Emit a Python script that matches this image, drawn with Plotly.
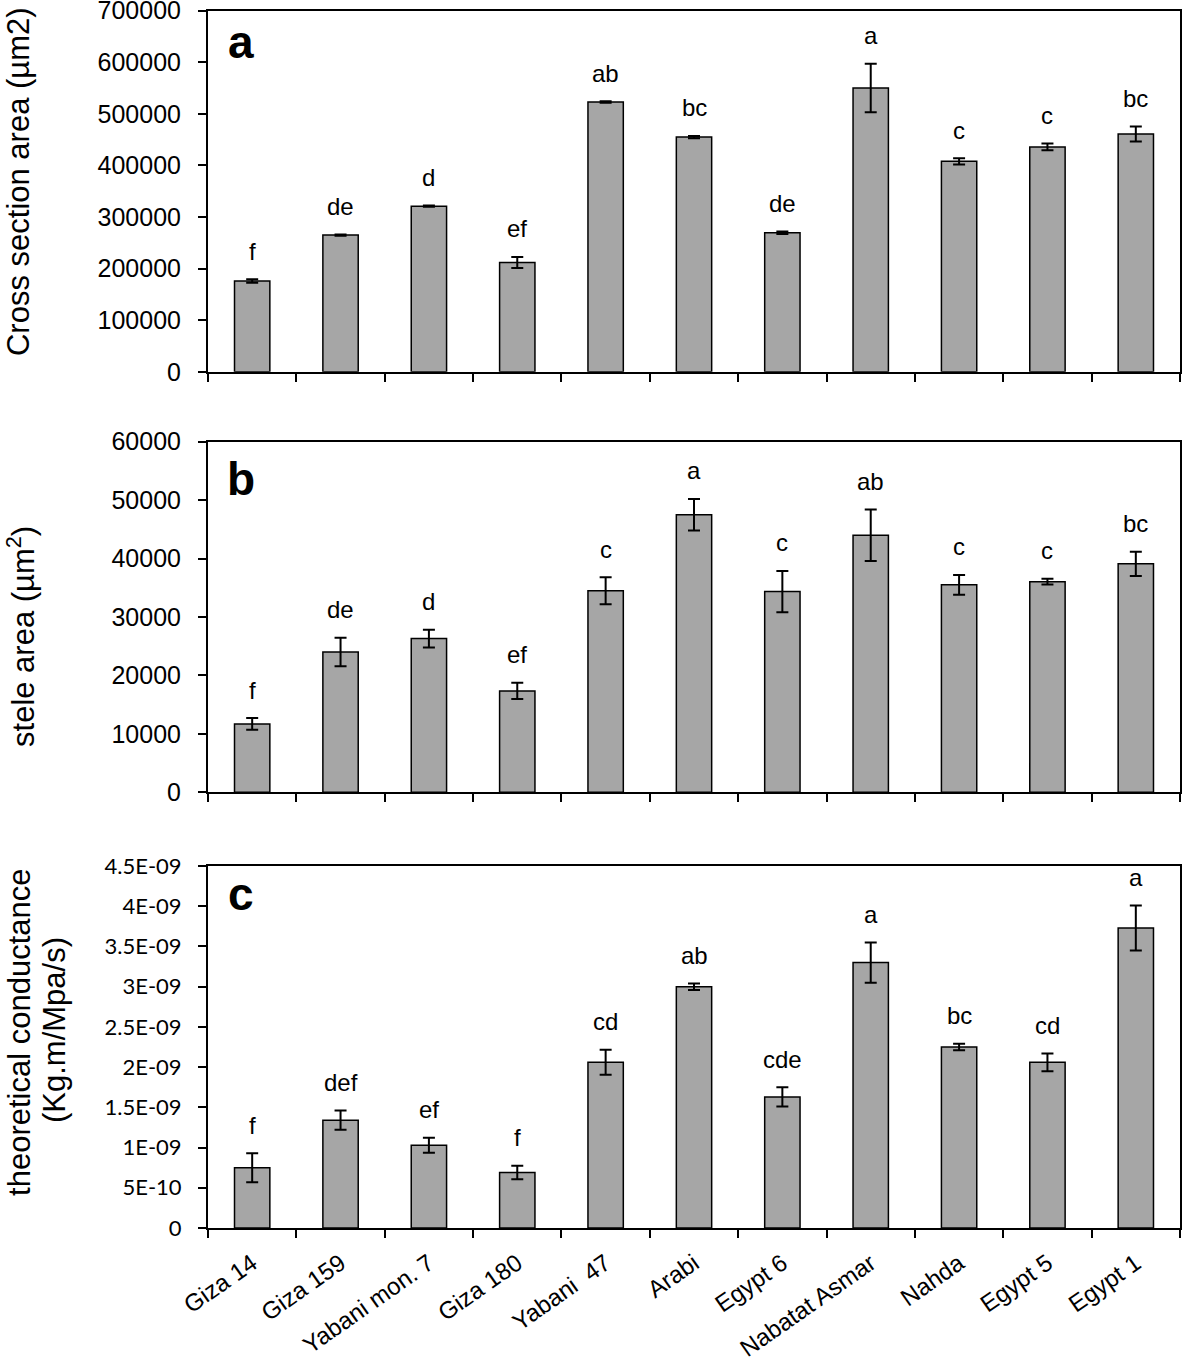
import plotly.graph_objects as go

categories = ["Giza 14", "Giza 159", "Yabani mon. 7", "Giza 180", "Yabani  47", "Arabi",
              "Egypt 6", "Nabatat Asmar", "Nahda", "Egypt 5", "Egypt 1"]

cross_area = [176000, 265000, 321000, 212000, 523000, 455000, 269500, 550000, 408000, 436000, 461000]
cross_err = [3300, 1200, 1200, 10700, 1500, 2200, 2500, 47000, 6100, 6500, 14500]
cross_letters = ["f", "de", "d", "ef", "ab", "bc", "de", "a", "c", "c", "bc"]

stele_area = [11700, 24000, 26300, 17350, 34500, 47500, 34350, 44000, 35500, 36050, 39100]
stele_err = [1000, 2430, 1500, 1400, 2300, 2700, 3540, 4400, 1690, 510, 2080]
stele_letters = ["f", "de", "d", "ef", "c", "a", "c", "ab", "c", "c", "bc"]

conduct = [0.75e-9, 1.34e-9, 1.03e-9, 0.69e-9, 2.06e-9, 3.00e-9, 1.63e-9, 3.30e-9, 2.25e-9, 2.06e-9, 3.73e-9]
conduct_err = [0.18e-9, 0.12e-9, 0.093e-9, 0.083e-9, 0.155e-9, 0.04e-9, 0.12e-9, 0.25e-9, 0.04e-9, 0.11e-9, 0.28e-9]
conduct_letters = ["f", "def", "ef", "f", "cd", "ab", "cde", "a", "bc", "cd", "a"]

cross_ticks = [0, 100000, 200000, 300000, 400000, 500000, 600000, 700000]
cross_ticktext = ["0", "100000", "200000", "300000", "400000", "500000", "600000", "700000"]
stele_ticks = [0, 10000, 20000, 30000, 40000, 50000, 60000]
stele_ticktext = ["0", "10000", "20000", "30000", "40000", "50000", "60000"]
cond_ticks = [0, 0.5e-9, 1e-9, 1.5e-9, 2e-9, 2.5e-9, 3e-9, 3.5e-9, 4e-9, 4.5e-9]
cond_ticktext = ["0", "5E-10", "1E-09", "1.5E-09", "2E-09", "2.5E-09", "3E-09", "3.5E-09", "4E-09", "4.5E-09"]

ARIAL = "Liberation Sans, Arial"

panels = [
    dict(vals=cross_area, err=cross_err, letters=cross_letters, ticks=cross_ticks,
         ticktext=cross_ticktext, rng=[0, 700000], domain=[0.7030, 0.9994], tag="a",
         tickfont=dict(family=ARIAL, size=25, color="black")),
    dict(vals=stele_area, err=stele_err, letters=stele_letters, ticks=stele_ticks,
         ticktext=stele_ticktext, rng=[0, 60000], domain=[0.3577, 0.6456], tag="b",
         tickfont=dict(family=ARIAL, size=25, color="black")),
    dict(vals=conduct, err=conduct_err, letters=conduct_letters, ticks=cond_ticks,
         ticktext=cond_ticktext, rng=[0, 4.5e-9], domain=[0.0, 0.2972], tag="c",
         tickfont=dict(family="Lato, Liberation Sans", size=22, color="black")),
]

fig = go.Figure()
annotations = []

for i, p in enumerate(panels):
    n = "" if i == 0 else str(i + 1)
    xa, ya = "x" + n, "y" + n
    fig.add_trace(go.Bar(
        x=categories, y=p["vals"], xaxis=xa, yaxis=ya,
        marker=dict(color="#A6A6A6", line=dict(color="black", width=1.5)),
        error_y=dict(type="data", array=p["err"], visible=True, color="black", thickness=2, width=6),
        width=0.4, showlegend=False, hoverinfo="skip",
    ))
    for c, v, e, l in zip(categories, p["vals"], p["err"], p["letters"]):
        annotations.append(dict(x=c, y=v + e, xref=xa, yref=ya, text=l, showarrow=False,
                                yanchor="middle", yshift=28,
                                font=dict(family=ARIAL, size=24, color="black")))
    annotations.append(dict(x=0.034, y={"a": 0.913, "b": 0.894, "c": 0.923}[p["tag"]],
                            xref=xa + " domain", yref=ya + " domain", text="<b>%s</b>" % p["tag"],
                            showarrow=False, xanchor="center", yanchor="middle",
                            font=dict(family=ARIAL, size=46, color="black")))
    xkey = "xaxis" + n
    ykey = "yaxis" + n
    fig.update_layout(**{
        xkey: dict(domain=[0, 1], anchor=ya, type="category", range=[-0.5, 10.5],
                   showline=True, mirror=True, linecolor="black", linewidth=2,
                   ticks="outside", tickson="boundaries", ticklen=8, tickwidth=2, tickcolor="black",
                   showticklabels=(i == 2), tickangle=-35, ticklabelstandoff=10,
                   tickfont=dict(family=ARIAL, size=24, color="black"),
                   showgrid=False, zeroline=False, fixedrange=True),
        ykey: dict(domain=p["domain"], anchor=xa, range=p["rng"], tickvals=p["ticks"],
                   ticktext=p["ticktext"], showline=True, mirror=True, linecolor="black",
                   linewidth=2, ticks="outside", ticklen=8, tickwidth=2, tickcolor="black",
                   ticklabelstandoff=12, ticklabeloverflow="allow", tickfont=p["tickfont"],
                   showgrid=False, zeroline=False, fixedrange=True),
    })

title_font = dict(family=ARIAL, size=31, color="black")
def px2paper(px):
    return (px - 208) / 972.0

annotations += [
    dict(x=px2paper(18), y=0.5255, xref="paper", yref="y domain", text="Cross section area (µm2)",
         textangle=-90, showarrow=False, xanchor="center", yanchor="middle", font=title_font),
    dict(x=px2paper(21), y=0.443, xref="paper", yref="y2 domain", text="stele area (µm<sup>2</sup>)",
         textangle=-90, showarrow=False, xanchor="center", yanchor="middle", font=title_font),
    dict(x=px2paper(20), y=0.539, xref="paper", yref="y3 domain", text="theoretical conductance",
         textangle=-90, showarrow=False, xanchor="center", yanchor="middle", font=title_font),
    dict(x=px2paper(55), y=0.547, xref="paper", yref="y3 domain", text="(Kg.m/Mpa/s)",
         textangle=-90, showarrow=False, xanchor="center", yanchor="middle", font=title_font),
]

fig.update_layout(
    width=1182, height=1364,
    margin=dict(l=208, r=2, t=10, b=136, autoexpand=False),
    plot_bgcolor="white", paper_bgcolor="white",
    annotations=annotations, bargap=0.6, showlegend=False,
)

fig.write_html("out.html", config={"displayModeBar": False},
               post_script="document.body.style.margin='0';")
